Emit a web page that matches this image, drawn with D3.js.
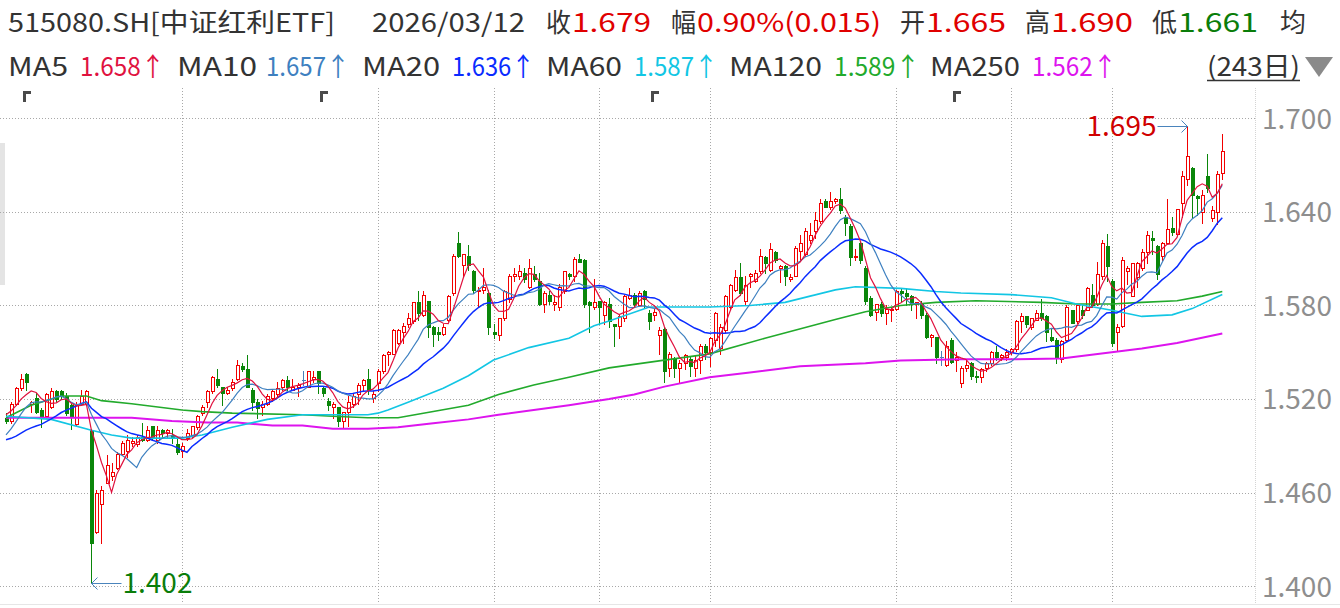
<!DOCTYPE html>
<html><head><meta charset="utf-8">
<script src="https://cdn.jsdelivr.net/npm/d3@7/dist/d3.min.js"></script>
<style>
body{margin:0;background:#fff;}
svg{display:block;font-family:"Noto Sans CJK SC","Noto Sans",sans-serif;}
</style>
</head><body>
<svg id="chart" width="1340" height="608"></svg>
<script>
// ---------------- data ----------------
const openP = [
1.508,1.506,1.517,1.527,1.536,1.517,1.521,1.513,1.509,1.515,
1.525,1.525,1.522,1.516,1.504,1.517,1.517,1.500,1.435,1.453,
1.466,1.471,1.476,1.485,1.487,1.492,1.491,1.496,1.494,1.503,
1.494,1.500,1.498,1.497,1.491,1.487,1.495,1.497,1.502,1.511,
1.518,1.525,1.533,1.528,1.524,1.527,1.533,1.541,1.539,1.526,
1.518,1.515,1.517,1.521,1.523,1.528,1.532,1.526,1.528,1.532,
1.528,1.533,1.538,1.527,1.519,1.515,1.515,1.506,1.512,1.517,
1.523,1.529,1.533,1.521,1.530,1.538,1.549,1.549,1.556,1.563,
1.568,1.570,1.582,1.574,1.583,1.566,1.563,1.562,1.571,1.588,
1.620,1.606,1.612,1.602,1.589,1.590,1.588,1.563,1.561,1.572,
1.584,1.599,1.599,1.601,1.592,1.600,1.596,1.581,1.587,1.581,
1.579,1.589,1.600,1.599,1.610,1.609,1.582,1.579,1.583,1.574,
1.581,1.568,1.567,1.572,1.585,1.587,1.580,1.589,1.575,1.574,
1.561,1.565,1.540,1.546,1.540,1.543,1.546,1.540,1.545,1.554,
1.550,1.558,1.553,1.564,1.579,1.590,1.598,1.583,1.599,1.596,
1.602,1.611,1.603,1.614,1.604,1.605,1.597,1.599,1.615,1.613,
1.622,1.628,1.634,1.647,1.643,1.647,1.648,1.637,1.631,1.611,
1.620,1.604,1.585,1.576,1.581,1.575,1.577,1.578,1.589,1.588,
1.586,1.581,1.581,1.574,1.560,1.560,1.547,1.542,1.558,1.545,
1.530,1.540,1.543,1.535,1.534,1.540,1.543,1.550,1.547,1.547,
1.550,1.552,1.570,1.573,1.566,1.571,1.575,1.573,1.560,1.558,
1.546,1.558,1.577,1.570,1.577,1.577,1.587,1.581,1.599,1.618,
1.596,1.563,1.567,1.602,1.586,1.598,1.604,1.614,1.623,1.618,
1.612,1.620,1.630,1.626,1.646,1.661,1.668,1.650,1.640,1.663,
1.636,1.640,1.665];
const highP = [
1.511,1.518,1.528,1.536,1.537,1.519,1.524,1.514,1.524,1.527,
1.526,1.526,1.524,1.517,1.518,1.526,1.526,1.501,1.462,1.464,
1.484,1.479,1.486,1.493,1.497,1.496,1.497,1.505,1.503,1.503,
1.503,1.501,1.501,1.501,1.496,1.492,1.501,1.503,1.510,1.516,
1.526,1.535,1.539,1.528,1.528,1.533,1.545,1.543,1.548,1.527,
1.520,1.519,1.523,1.526,1.531,1.533,1.535,1.533,1.530,1.538,
1.538,1.538,1.538,1.528,1.521,1.518,1.515,1.512,1.522,1.523,
1.530,1.533,1.539,1.525,1.539,1.549,1.551,1.565,1.565,1.569,
1.575,1.582,1.589,1.589,1.583,1.567,1.566,1.568,1.587,1.613,
1.627,1.613,1.619,1.603,1.592,1.604,1.590,1.568,1.572,1.590,
1.600,1.604,1.606,1.604,1.610,1.605,1.601,1.589,1.589,1.587,
1.594,1.602,1.601,1.611,1.613,1.610,1.583,1.597,1.583,1.583,
1.585,1.568,1.574,1.587,1.591,1.588,1.589,1.590,1.577,1.578,
1.566,1.566,1.550,1.547,1.545,1.549,1.547,1.548,1.555,1.555,
1.560,1.576,1.568,1.587,1.594,1.603,1.607,1.599,1.601,1.603,
1.616,1.612,1.620,1.615,1.606,1.606,1.600,1.618,1.625,1.630,
1.633,1.640,1.648,1.648,1.653,1.649,1.655,1.638,1.632,1.616,
1.621,1.605,1.586,1.581,1.582,1.580,1.579,1.590,1.591,1.591,
1.587,1.582,1.583,1.575,1.562,1.560,1.551,1.557,1.559,1.550,
1.541,1.545,1.544,1.538,1.540,1.544,1.551,1.554,1.549,1.552,
1.553,1.571,1.575,1.573,1.572,1.577,1.584,1.574,1.565,1.559,
1.558,1.580,1.577,1.581,1.580,1.592,1.594,1.608,1.622,1.626,
1.597,1.568,1.611,1.605,1.607,1.608,1.616,1.628,1.628,1.619,
1.621,1.648,1.637,1.642,1.666,1.695,1.669,1.651,1.654,1.677,
1.644,1.666,1.690];
const lowP = [
1.505,1.505,1.516,1.526,1.526,1.512,1.511,1.502,1.508,1.514,
1.519,1.520,1.510,1.501,1.503,1.516,1.516,1.402,1.434,1.428,
1.466,1.468,1.475,1.484,1.483,1.490,1.490,1.493,1.493,1.494,
1.492,1.496,1.496,1.492,1.485,1.483,1.494,1.496,1.501,1.510,
1.515,1.524,1.528,1.516,1.523,1.526,1.532,1.538,1.528,1.513,
1.508,1.510,1.516,1.519,1.522,1.526,1.526,1.526,1.522,1.529,
1.528,1.531,1.524,1.522,1.513,1.508,1.503,1.502,1.503,1.515,
1.517,1.525,1.523,1.518,1.525,1.537,1.542,1.549,1.555,1.556,
1.566,1.569,1.571,1.573,1.560,1.554,1.558,1.561,1.570,1.587,
1.611,1.599,1.603,1.588,1.579,1.588,1.562,1.559,1.558,1.571,
1.582,1.596,1.597,1.595,1.591,1.596,1.580,1.576,1.581,1.577,
1.577,1.588,1.597,1.596,1.608,1.579,1.563,1.578,1.568,1.568,
1.566,1.554,1.559,1.570,1.584,1.579,1.580,1.579,1.565,1.571,
1.549,1.531,1.535,1.534,1.531,1.539,1.535,1.535,1.537,1.546,
1.541,1.554,1.549,1.563,1.578,1.589,1.587,1.581,1.592,1.595,
1.601,1.601,1.602,1.608,1.595,1.593,1.596,1.599,1.609,1.612,
1.620,1.623,1.633,1.643,1.642,1.646,1.639,1.625,1.606,1.609,
1.607,1.581,1.573,1.571,1.573,1.568,1.570,1.577,1.583,1.580,
1.577,1.572,1.572,1.559,1.554,1.543,1.542,1.541,1.543,1.538,
1.528,1.538,1.533,1.531,1.531,1.538,1.542,1.545,1.545,1.545,
1.549,1.551,1.563,1.566,1.565,1.571,1.571,1.557,1.557,1.543,
1.544,1.557,1.569,1.569,1.572,1.577,1.579,1.580,1.597,1.596,
1.554,1.551,1.566,1.594,1.586,1.592,1.603,1.607,1.613,1.597,
1.609,1.620,1.625,1.625,1.637,1.657,1.636,1.638,1.633,1.653,
1.634,1.632,1.661];
const closeP = [
1.506,1.517,1.527,1.533,1.531,1.518,1.512,1.508,1.523,1.525,
1.520,1.522,1.511,1.509,1.516,1.522,1.525,1.428,1.460,1.462,
1.478,1.473,1.485,1.492,1.494,1.493,1.496,1.494,1.500,1.495,
1.500,1.498,1.500,1.496,1.486,1.490,1.498,1.503,1.509,1.515,
1.525,1.534,1.529,1.524,1.526,1.531,1.542,1.539,1.528,1.518,
1.514,1.517,1.522,1.525,1.527,1.532,1.528,1.528,1.529,1.532,
1.538,1.534,1.530,1.524,1.516,1.517,1.506,1.512,1.518,1.522,
1.529,1.532,1.526,1.523,1.538,1.548,1.550,1.564,1.564,1.567,
1.572,1.582,1.575,1.587,1.566,1.562,1.562,1.566,1.586,1.612,
1.612,1.613,1.606,1.590,1.590,1.592,1.566,1.562,1.572,1.589,
1.599,1.600,1.602,1.597,1.604,1.597,1.581,1.588,1.583,1.582,
1.592,1.602,1.599,1.610,1.608,1.581,1.580,1.582,1.579,1.582,
1.570,1.567,1.573,1.586,1.587,1.581,1.588,1.584,1.570,1.576,
1.564,1.538,1.549,1.540,1.543,1.548,1.541,1.545,1.554,1.550,
1.559,1.575,1.566,1.586,1.593,1.598,1.588,1.593,1.600,1.601,
1.612,1.607,1.616,1.609,1.605,1.599,1.598,1.617,1.620,1.628,
1.625,1.635,1.646,1.643,1.647,1.648,1.641,1.633,1.611,1.612,
1.609,1.583,1.574,1.581,1.575,1.578,1.578,1.589,1.588,1.586,
1.581,1.582,1.574,1.560,1.561,1.547,1.547,1.554,1.544,1.547,
1.540,1.542,1.535,1.534,1.539,1.543,1.550,1.547,1.548,1.550,
1.552,1.570,1.573,1.568,1.572,1.575,1.572,1.563,1.558,1.547,
1.557,1.579,1.569,1.580,1.574,1.591,1.580,1.600,1.620,1.605,
1.556,1.566,1.609,1.604,1.607,1.607,1.614,1.625,1.622,1.600,
1.620,1.629,1.627,1.642,1.663,1.676,1.651,1.649,1.651,1.655,
1.641,1.664,1.679];
// closes of the 19 sessions before the window (needed for MA5/10/20 at the left edge)
const priorCloses = [1.500,1.498,1.495,1.492,1.490,1.488,1.487,1.488,1.490,1.482,
                     1.478,1.480,1.484,1.488,1.490,1.505,1.510,1.512,1.517];
// long moving averages: [session index, value]
const ma60Pts = [[0,1.509],[9,1.507],[17,1.500],[21,1.497],[25,1.495],[35,1.495],[39,1.497],[45,1.502],[52,1.507],[59,1.510],[72,1.510],[74,1.511],[76,1.513],[80,1.518],[87,1.527],[92,1.535],[97,1.545],[104,1.553],[112,1.559],[117,1.567],[120,1.570],[128,1.579],[133,1.579],[140,1.579],[148,1.580],[155,1.582],[165,1.590],[169,1.592],[178,1.591],[185,1.589],[190,1.588],[200,1.587],[208,1.585],[213,1.581],[220,1.577],[226,1.573],[232,1.574],[236,1.578],[242,1.587]];
const ma120Pts = [[0,1.508],[5,1.516],[11,1.522],[16,1.522],[19,1.519],[25,1.517],[35,1.513],[39,1.512],[45,1.511],[59,1.510],[65,1.509],[72,1.508],[78,1.508],[85,1.512],[92,1.516],[98,1.523],[105,1.529],[112,1.534],[120,1.540],[131,1.545],[140,1.549],[151,1.559],[165,1.571],[171,1.576],[178,1.580],[185,1.582],[193,1.583],[206,1.582],[213,1.581],[220,1.581],[226,1.582],[233,1.583],[238,1.586],[242,1.589]];
const ma250Pts = [[0,1.508],[25,1.508],[33,1.506],[40,1.505],[46,1.505],[53,1.503],[59,1.503],[65,1.501],[72,1.501],[78,1.502],[85,1.5045],[92,1.507],[98,1.510],[105,1.513],[112,1.516],[120,1.520],[125,1.523],[131,1.528],[140,1.534],[148,1.537],[158,1.541],[171,1.543],[178,1.5447],[190,1.5455],[200,1.5455],[210,1.546],[220,1.550],[226,1.5525],[233,1.556],[242,1.562]];
const yTicks = [1.400, 1.460, 1.520, 1.580, 1.640, 1.700];
const monthLines = [35, 74, 97, 118, 140, 177, 200, 220];
const quarterMarks = [4, 63, 129, 189];
const headerRow1 = [
  {t:"515080.SH[中证红利ETF]", k:"label"}, {t:"2026/03/12", k:"label"},
  {t:"收", k:"label"}, {t:"1.679", k:"up"},
  {t:"幅", k:"label"}, {t:"0.90%(0.015)", k:"up"},
  {t:"开", k:"label"}, {t:"1.665", k:"up"},
  {t:"高", k:"label"}, {t:"1.690", k:"up"},
  {t:"低", k:"label"}, {t:"1.661", k:"down"},
  {t:"均", k:"label"}];
const headerRow2 = [
  {t:"MA5", k:"label"}, {t:"1.658↑", k:"ma5"},
  {t:"MA10", k:"label"}, {t:"1.657↑", k:"ma10"},
  {t:"MA20", k:"label"}, {t:"1.636↑", k:"ma20"},
  {t:"MA60", k:"label"}, {t:"1.587↑", k:"ma60"},
  {t:"MA120", k:"label"}, {t:"1.589↑", k:"ma120"},
  {t:"MA250", k:"label"}, {t:"1.562↑", k:"ma250"},
  {t:"(243日)", k:"label"}];

// ---------------- layout / style ----------------
const row1Pos = [[8,327],[372,153],[546,25],[572,79],[671,25],[697,184],[900,25],[926,80],[1025,25],[1051,82],[1152,25],[1178,80],[1280,26]];
const row2Pos = [[8,60],[80,85],[177,80],[266,84],[362,78],[452,83],[546,76],[634,84],[729,93],[834,86],[930,90],[1032,85],[1207,93]];
const colors = {label:"#333333", up:"#e00000", down:"#0a7d0a",
  ma5:"#e0123f", ma10:"#3e80c0", ma20:"#0a2cff", ma60:"#12c6e4", ma120:"#22aa2c", ma250:"#dd14ee"};
const UP = "#f20000", DOWN = "#0a860a", FLAT = "#4a7fb8";

const svg = d3.select("#chart");
const N = closeP.length;
const x = d3.scaleBand().domain(d3.range(N)).range([3.49, 3.49 + 5.026 * N]);
const cx = i => x(i) + x.bandwidth() / 2;
const px = i => Math.round(cx(i));
const y = d3.scaleLinear().domain([1.400, 1.700]).range([586.3, 118.3]);
const plotRight = 1255;

// left scroll strip
svg.append("rect").attr("x",0).attr("y",143).attr("width",5).attr("height",142).attr("fill","#e4e4e4");

// horizontal grid
svg.append("g").selectAll("line").data(yTicks).join("line")
  .attr("x1",0).attr("x2",plotRight)
  .attr("y1",d=>Math.round(y(d))+0.5).attr("y2",d=>Math.round(y(d))+0.5)
  .attr("stroke","#a8a8a8").attr("stroke-dasharray","1,2");
// vertical month grid
svg.append("g").selectAll("line").data(monthLines).join("line")
  .attr("x1",d=>px(d)+0.5).attr("x2",d=>px(d)+0.5)
  .attr("y1",88).attr("y2",606)
  .attr("stroke","#a8a8a8").attr("stroke-dasharray","1,2");
// axis separator
svg.append("line").attr("x1",plotRight+0.5).attr("x2",plotRight+0.5).attr("y1",88).attr("y2",606)
  .attr("stroke","#d4d4d4").attr("stroke-dasharray","1,1");
svg.append("line").attr("x1",0).attr("x2",1340).attr("y1",604.5).attr("y2",604.5).attr("stroke","#e6e6e6");

// quarter corner marks
svg.append("g").attr("shape-rendering","crispEdges").selectAll("path").data(quarterMarks).join("path")
  .attr("d",d=>{const X=px(d)-3; return `M${X},91h8v3h-5v8h-3Z`;})
  .attr("fill","#4a4a4a");

// y axis labels
const yAxis = d3.axisRight(y).tickValues(yTicks).tickSize(0).tickPadding(0).tickFormat(d3.format(".3f"));
const ax = svg.append("g").attr("transform","translate(1262,0)").call(yAxis);
ax.select(".domain").remove();
ax.selectAll("text").attr("fill","#8e8e8e").attr("font-size",28)
  .attr("font-family","'Noto Sans CJK SC','Noto Sans',sans-serif").attr("dy","0.35em");

// candles
const idx = d3.range(N);
const cg = svg.append("g").attr("shape-rendering","crispEdges");
idx.forEach(i => {
  const o = openP[i], c = closeP[i], h = highP[i], l = lowP[i];
  const col = c > o ? UP : (c < o ? DOWN : FLAT);
  const p = px(i);
  cg.append("line").attr("x1",p+0.5).attr("x2",p+0.5)
    .attr("y1",Math.round(y(h))).attr("y2",Math.round(y(l))+1).attr("stroke",col);
  const top = Math.round(y(Math.max(o,c))), bot = Math.round(y(Math.min(o,c)));
  if (c > o) {
    cg.append("rect").attr("x",p-0.5).attr("y",top+0.5).attr("width",3)
      .attr("height",Math.max(bot-top,1)).attr("fill","#fff").attr("stroke",col);
  } else if (c < o) {
    cg.append("rect").attr("x",p-1).attr("y",top).attr("width",4)
      .attr("height",Math.max(bot-top,1)+1).attr("fill",col);
  } else {
    cg.append("line").attr("x1",p-1).attr("x2",p+3).attr("y1",top+0.5).attr("y2",top+0.5).attr("stroke",col);
  }
});

// moving averages
const allCloses = priorCloses.concat(closeP);
const maOf = n => closeP.map((_, i) => d3.mean(allCloses.slice(i + priorCloses.length - n + 1, i + priorCloses.length + 1)));
const lineI = d3.line().x((d,i)=>cx(i)).y(d=>y(d));
const lineP = d3.line().x(d=>cx(d[0])).y(d=>y(d[1]));
const lg = svg.append("g").attr("fill","none");
lg.append("path").attr("d",lineP(ma250Pts)).attr("stroke",colors.ma250).attr("stroke-width",2);
lg.append("path").attr("d",lineP(ma120Pts)).attr("stroke",colors.ma120).attr("stroke-width",1.6);
lg.append("path").attr("d",lineP(ma60Pts)).attr("stroke",colors.ma60).attr("stroke-width",1.6);
lg.append("path").attr("d",lineI(maOf(20))).attr("stroke",colors.ma20).attr("stroke-width",1.5);
lg.append("path").attr("d",lineI(maOf(10))).attr("stroke",colors.ma10).attr("stroke-width",1.2);
lg.append("path").attr("d",lineI(maOf(5))).attr("stroke",colors.ma5).attr("stroke-width",1.2);

// min / max annotations
const iMin = d3.minIndex(lowP), iMax = d3.maxIndex(highP);
const ymin = Math.round(y(lowP[iMin])) + 0.5, xmin = px(iMin) + 0.5;
svg.append("path").attr("d",`M${xmin},${ymin}H${xmin+30}M${xmin+6},${ymin-6}L${xmin},${ymin}L${xmin+6},${ymin+6}`)
  .attr("fill","none").attr("stroke","#4a84bc").attr("stroke-width",1);
svg.append("text").attr("x",xmin+31).attr("y",ymin).attr("dy","0.35em")
  .attr("font-size",28).attr("fill","#0a7d0a").text(d3.format(".3f")(lowP[iMin]));
const ymax = Math.round(y(highP[iMax])) + 0.5, xmax = px(iMax) + 0.5;
svg.append("path").attr("d",`M${xmax},${ymax}H${xmax-30}M${xmax-6},${ymax-6}L${xmax},${ymax}L${xmax-6},${ymax+6}`)
  .attr("fill","none").attr("stroke","#4a84bc").attr("stroke-width",1);
svg.append("text").attr("x",xmax-31).attr("y",ymax).attr("dy","0.35em").attr("text-anchor","end")
  .attr("font-size",28).attr("fill","#d00000").text(d3.format(".3f")(highP[iMax]));

// header
function headerRow(items, pos, base){
  svg.append("g").selectAll("text").data(items).join("text")
    .attr("x",(d,i)=>pos[i][0]).attr("y",base)
    .attr("textLength",(d,i)=>pos[i][1]).attr("lengthAdjust","spacingAndGlyphs")
    .attr("font-size",26).attr("fill",d=>colors[d.k]).text(d=>d.t);
}
headerRow(headerRow1, row1Pos, 32);
headerRow(headerRow2, row2Pos, 76);
svg.append("line").attr("x1",1207).attr("x2",1300).attr("y1",80.5).attr("y2",80.5).attr("stroke","#333").attr("stroke-width",1.5);
svg.append("path").attr("d","M1305,57H1333L1319,77Z").attr("fill","#8a8a8a");
</script>
</body></html>
